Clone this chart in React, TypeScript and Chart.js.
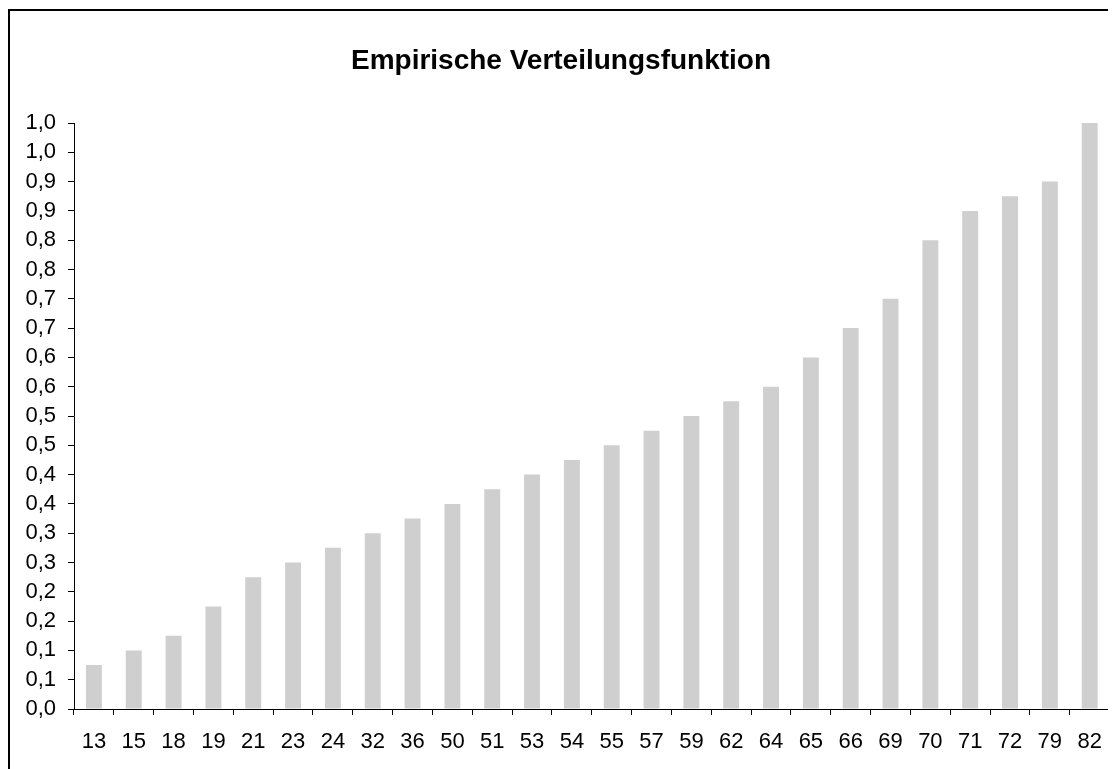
import React, { useEffect, useRef } from "react";
import { Chart, registerables } from "chart.js";

Chart.register(...registerables);

const titleText = "Empirische Verteilungsfunktion";
const categories = ["13", "15", "18", "19", "21", "23", "24", "32", "36", "50", "51", "53", "54", "55", "57", "59", "62", "64", "65", "66", "69", "70", "71", "72", "79", "82"];
const cumulativeShare = [0.075, 0.1, 0.125, 0.175, 0.225, 0.25, 0.275, 0.3, 0.325, 0.35, 0.375, 0.4, 0.425, 0.45, 0.475, 0.5, 0.525, 0.55, 0.6, 0.65, 0.7, 0.8, 0.85, 0.875, 0.9, 1.0];
const yTickLabels = ["0,0", "0,1", "0,1", "0,2", "0,2", "0,3", "0,3", "0,4", "0,4", "0,5", "0,5", "0,6", "0,6", "0,7", "0,7", "0,8", "0,8", "0,9", "0,9", "1,0", "1,0"];

const FONT = "'Liberation Sans', Arial, sans-serif";

export default function App() {
  const ref = useRef<HTMLCanvasElement | null>(null);
  useEffect(() => {
    if (!ref.current) return;
    const chart = new Chart(ref.current, {
      type: "bar",
      data: {
        labels: categories,
        datasets: [
          {
            data: cumulativeShare,
            backgroundColor: "#cfcfcf",
            borderWidth: 0,
            categoryPercentage: 1,
            barPercentage: 0.4,
          },
        ],
      },
      options: {
        responsive: false,
        animation: false,
        layout: { padding: { left: 0, right: 4, top: 0, bottom: 0 } },
        plugins: {
          legend: { display: false },
          tooltip: { enabled: false },
          title: {
            display: true,
            text: titleText,
            color: "#000",
            font: { family: FONT, size: 28, weight: "bold" },
            padding: { top: 33, bottom: 45.4 },
          },
        },
        scales: {
          x: {
            offset: true,
            grid: {
              offset: true,
              drawOnChartArea: false,
              drawTicks: true,
              tickLength: 6,
              color: "#000",
            },
            border: { color: "#000", width: 1 },
            ticks: {
              color: "#000",
              font: { family: FONT, size: 22 },
              padding: 14,
              maxRotation: 0,
              autoSkip: false,
            },
            afterFit: (s: any) => {
              s.height = 61;
            },
          },
          y: {
            min: 0,
            max: 1,
            grid: {
              drawOnChartArea: false,
              drawTicks: true,
              tickLength: 6,
              color: "#000",
            },
            border: { color: "#000", width: 1 },
            ticks: {
              stepSize: 0.05,
              color: "#000",
              font: { family: FONT, size: 22 },
              padding: 12,
              autoSkip: false,
              callback: (_v: any, i: number) => yTickLabels[i],
            },
            afterFit: (s: any) => {
              s.width = 64;
            },
          },
        },
      },
    });
    return () => chart.destroy();
  }, []);

  return (
    <div
      style={{
        width: 1108,
        height: 761,
        borderTop: "2px solid #000",
        borderLeft: "2px solid #000",
        boxSizing: "border-box",
        marginTop: 1,
        overflow: "hidden",
      }}
    >
      <canvas ref={ref} width={1106} height={759} style={{ display: "block" }} />
    </div>
  );
}
